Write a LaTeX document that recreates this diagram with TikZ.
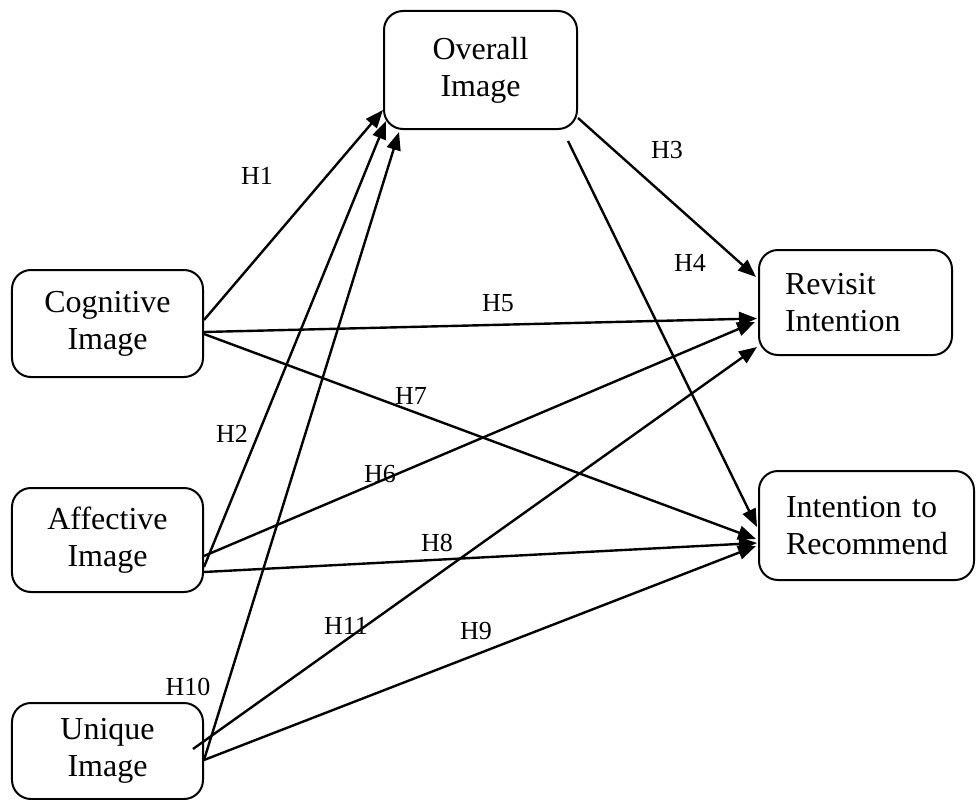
\documentclass[tikz,border=0pt]{standalone}
\usepackage{fontspec}
\setmainfont{Liberation Serif}
\usetikzlibrary{arrows.meta}
\begin{document}
\begin{tikzpicture}[x=1bp,y=-1bp,
  boxc/.style={draw,line width=2bp,rounded corners=19bp,inner sep=0pt,align=center,
    font=\fontsize{32bp}{37bp}\selectfont},
  boxl/.style={draw,line width=2bp,rounded corners=19bp,inner ysep=0pt,align=left,
    font=\fontsize{32bp}{37bp}\selectfont},
  conn/.style={line width=2.4bp,-{Triangle[length=18bp,width=14bp]}},
  hlab/.style={font=\fontsize{26bp}{28bp}\selectfont,inner sep=0pt}]
\useasboundingbox (0,0) rectangle (976,800);
\node[boxc,minimum width=193bp,minimum height=118bp] (ov) at (480.5,70) {Overall\\Image};
\node[boxc,minimum width=191bp,minimum height=107bp] (cog) at (107.5,323.5) {Cognitive\\Image};
\node[boxc,minimum width=191bp,minimum height=104bp] (aff) at (107.5,540) {Affective\\Image};
\node[boxc,minimum width=191bp,minimum height=96bp] (uni) at (107.5,751) {Unique\\Image};
\node[boxl,text width=141bp,inner xsep=26bp,minimum height=105bp] (rev) at (855.5,302.5) {Revisit\\Intention};
\node[boxl,text width=161bp,inner xsep=27bp,minimum height=109bp] (rec) at (866.5,525.5) {Intention to\\Recommend};
% connectors
\draw[conn] ([yshift=3.5bp]cog.east) -- ([yshift=-40bp]ov.west);
\draw[conn] ([yshift=-27bp]aff.east) -- ([xshift=3bp,yshift=-51bp]ov.west);
\draw[conn] ([yshift=-9bp]uni.east) -- ([xshift=-81.5bp,yshift=-2bp]ov.south);
\draw[conn] ([yshift=-48bp]ov.east) -- ([xshift=-2bp,yshift=25.5bp]rev.west);
\coordinate (h4s) at ([xshift=87.5bp,yshift=-11bp]ov.south);
\draw[conn] (h4s) -- ([xshift=-1bp,yshift=-1.5bp]rec.west);
\draw[conn] ([yshift=-8.5bp]cog.east) -- ([xshift=-1bp,yshift=-16bp]rev.west);
\draw[conn] ([yshift=-16bp]aff.east) -- ([xshift=-3bp,yshift=-19.5bp]rev.west);
\draw[conn] ([yshift=-10.5bp]cog.east) -- ([xshift=-2bp,yshift=-13.5bp]rec.west);
\draw[conn] ([yshift=-32bp]aff.east) -- ([xshift=-1bp,yshift=-17.5bp]rec.west);
\draw[conn] ([yshift=-9bp]uni.east) -- ([xshift=-2bp,yshift=-20.5bp]rec.west);
\coordinate (h11s) at ([xshift=-11bp,yshift=2bp]uni.east);
\draw[conn] (h11s) -- ([xshift=-1bp,yshift=-44.5bp]rev.west);
% labels
\node[hlab] (l1) at (257,176) {H1};
\node[hlab] (l2) at (232,434) {H2};
\node[hlab] (l3) at (667,150) {H3};
\node[hlab] (l4) at (690,263) {H4};
\node[hlab] (l5) at (498,303) {H5};
\node[hlab] (l6) at (380,474) {H6};
\node[hlab] (l7) at (411,396) {H7};
\node[hlab] (l8) at (437,543) {H8};
\node[hlab] (l9) at (476,631) {H9};
\node[hlab] (l10) at (188,687) {H10};
\node[hlab] (l11) at (346,626) {H11};
\end{tikzpicture}
\end{document}
